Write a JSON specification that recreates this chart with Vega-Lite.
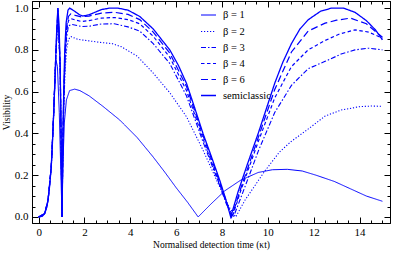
{
  "$schema": "https://vega.github.io/schema/vega-lite/v6.json",
  "width": 358,
  "height": 222,
  "autosize": {"type": "none"},
  "padding": {"left": 32, "top": 1, "right": 4, "bottom": 31},
  "background": "white",
  "config": {
    "font": "Liberation Serif, Times New Roman, DejaVu Serif, serif",
    "view": {"stroke": "#000", "strokeWidth": 1},
    "axis": {"labelFont": "Liberation Serif, Times New Roman, DejaVu Serif, serif", "titleFont": "Liberation Serif, Times New Roman, DejaVu Serif, serif", "labelColor": "#000", "titleColor": "#000", "tickColor": "#000", "domainColor": "#000", "grid": false, "titleFontWeight": "normal", "labelFontSize": 11, "titleFontSize": 9.5},
    "legend": {"labelFont": "Liberation Serif, Times New Roman, DejaVu Serif, serif"}
  },
  "datasets": {
    "curves": [
      {"s": "β = 1", "x": 0, "y": 0}, {"s": "β = 1", "x": 0.15, "y": 0.003}, {"s": "β = 1", "x": 0.26, "y": 0.016}, {"s": "β = 1", "x": 0.35, "y": 0.045}, {"s": "β = 1", "x": 0.41, "y": 0.08}, {"s": "β = 1", "x": 0.48, "y": 0.15}, {"s": "β = 1", "x": 0.55, "y": 0.24}, {"s": "β = 1", "x": 0.6, "y": 0.35}, {"s": "β = 1", "x": 0.65, "y": 0.48}, {"s": "β = 1", "x": 0.7, "y": 0.62}, {"s": "β = 1", "x": 0.76, "y": 0.75}, {"s": "β = 1", "x": 0.82, "y": 0.72}, {"s": "β = 1", "x": 0.9, "y": 0.5}, {"s": "β = 1", "x": 1.02, "y": 0}, {"s": "β = 1", "x": 1.06, "y": 0.25}, {"s": "β = 1", "x": 1.12, "y": 0.45}, {"s": "β = 1", "x": 1.21, "y": 0.56}, {"s": "β = 1", "x": 1.35, "y": 0.605}, {"s": "β = 1", "x": 1.57, "y": 0.612}, {"s": "β = 1", "x": 1.8, "y": 0.605}, {"s": "β = 1", "x": 2.2, "y": 0.58}, {"s": "β = 1", "x": 2.8, "y": 0.53}, {"s": "β = 1", "x": 3.54, "y": 0.464}, {"s": "β = 1", "x": 4.3, "y": 0.38}, {"s": "β = 1", "x": 4.99, "y": 0.288}, {"s": "β = 1", "x": 5.5, "y": 0.215}, {"s": "β = 1", "x": 6.0, "y": 0.14}, {"s": "β = 1", "x": 6.5, "y": 0.07}, {"s": "β = 1", "x": 6.96, "y": 0}, {"s": "β = 1", "x": 7.5, "y": 0.06}, {"s": "β = 1", "x": 8.12, "y": 0.125}, {"s": "β = 1", "x": 8.8, "y": 0.175}, {"s": "β = 1", "x": 9.58, "y": 0.213}, {"s": "β = 1", "x": 10.2, "y": 0.226}, {"s": "β = 1", "x": 10.85, "y": 0.228}, {"s": "β = 1", "x": 11.5, "y": 0.22}, {"s": "β = 1", "x": 12.1, "y": 0.2}, {"s": "β = 1", "x": 12.9, "y": 0.17}, {"s": "β = 1", "x": 13.6, "y": 0.135}, {"s": "β = 1", "x": 14.3, "y": 0.1}, {"s": "β = 1", "x": 15, "y": 0.075},

      {"s": "β = 2", "x": 0, "y": 0}, {"s": "β = 2", "x": 0.26, "y": 0.016}, {"s": "β = 2", "x": 0.41, "y": 0.08}, {"s": "β = 2", "x": 0.55, "y": 0.24}, {"s": "β = 2", "x": 0.65, "y": 0.48}, {"s": "β = 2", "x": 0.74, "y": 0.75}, {"s": "β = 2", "x": 0.84, "y": 0.97}, {"s": "β = 2", "x": 0.94, "y": 0.7}, {"s": "β = 2", "x": 1.02, "y": 0}, {"s": "β = 2", "x": 1.06, "y": 0.33}, {"s": "β = 2", "x": 1.1, "y": 0.52}, {"s": "β = 2", "x": 1.15, "y": 0.69}, {"s": "β = 2", "x": 1.22, "y": 0.8}, {"s": "β = 2", "x": 1.3, "y": 0.85}, {"s": "β = 2", "x": 1.4, "y": 0.864}, {"s": "β = 2", "x": 1.72, "y": 0.85}, {"s": "β = 2", "x": 2.2, "y": 0.843}, {"s": "β = 2", "x": 2.74, "y": 0.835}, {"s": "β = 2", "x": 3.2, "y": 0.83}, {"s": "β = 2", "x": 3.61, "y": 0.815}, {"s": "β = 2", "x": 4.3, "y": 0.77}, {"s": "β = 2", "x": 4.99, "y": 0.69}, {"s": "β = 2", "x": 5.72, "y": 0.595}, {"s": "β = 2", "x": 6.45, "y": 0.48}, {"s": "β = 2", "x": 7.17, "y": 0.32}, {"s": "β = 2", "x": 7.9, "y": 0.144}, {"s": "β = 2", "x": 8.3, "y": 0.05}, {"s": "β = 2", "x": 8.6, "y": 0}, {"s": "β = 2", "x": 9.0, "y": 0.08}, {"s": "β = 2", "x": 9.87, "y": 0.22}, {"s": "β = 2", "x": 10.5, "y": 0.31}, {"s": "β = 2", "x": 11.0, "y": 0.36}, {"s": "β = 2", "x": 11.7, "y": 0.416}, {"s": "β = 2", "x": 12.5, "y": 0.483}, {"s": "β = 2", "x": 13.2, "y": 0.512}, {"s": "β = 2", "x": 14.0, "y": 0.528}, {"s": "β = 2", "x": 14.5, "y": 0.531}, {"s": "β = 2", "x": 15, "y": 0.53},

      {"s": "β = 3", "x": 0, "y": 0}, {"s": "β = 3", "x": 0.26, "y": 0.016}, {"s": "β = 3", "x": 0.41, "y": 0.08}, {"s": "β = 3", "x": 0.55, "y": 0.24}, {"s": "β = 3", "x": 0.65, "y": 0.48}, {"s": "β = 3", "x": 0.74, "y": 0.75}, {"s": "β = 3", "x": 0.84, "y": 0.98}, {"s": "β = 3", "x": 0.94, "y": 0.71}, {"s": "β = 3", "x": 1.02, "y": 0}, {"s": "β = 3", "x": 1.06, "y": 0.36}, {"s": "β = 3", "x": 1.1, "y": 0.56}, {"s": "β = 3", "x": 1.15, "y": 0.74}, {"s": "β = 3", "x": 1.22, "y": 0.86}, {"s": "β = 3", "x": 1.3, "y": 0.915}, {"s": "β = 3", "x": 1.45, "y": 0.922}, {"s": "β = 3", "x": 1.86, "y": 0.912}, {"s": "β = 3", "x": 2.2, "y": 0.913}, {"s": "β = 3", "x": 2.74, "y": 0.924}, {"s": "β = 3", "x": 3.3, "y": 0.925}, {"s": "β = 3", "x": 3.9, "y": 0.91}, {"s": "β = 3", "x": 4.41, "y": 0.89}, {"s": "β = 3", "x": 5.0, "y": 0.83}, {"s": "β = 3", "x": 5.72, "y": 0.735}, {"s": "β = 3", "x": 6.45, "y": 0.58}, {"s": "β = 3", "x": 7.17, "y": 0.36}, {"s": "β = 3", "x": 7.9, "y": 0.15}, {"s": "β = 3", "x": 8.2, "y": 0.06}, {"s": "β = 3", "x": 8.5, "y": 0}, {"s": "β = 3", "x": 8.85, "y": 0.1}, {"s": "β = 3", "x": 9.6, "y": 0.32}, {"s": "β = 3", "x": 10.3, "y": 0.5}, {"s": "β = 3", "x": 11.03, "y": 0.63}, {"s": "β = 3", "x": 11.76, "y": 0.71}, {"s": "β = 3", "x": 12.5, "y": 0.745}, {"s": "β = 3", "x": 13.2, "y": 0.78}, {"s": "β = 3", "x": 13.8, "y": 0.8}, {"s": "β = 3", "x": 14.4, "y": 0.808}, {"s": "β = 3", "x": 15, "y": 0.8},

      {"s": "β = 4", "x": 0, "y": 0}, {"s": "β = 4", "x": 0.26, "y": 0.016}, {"s": "β = 4", "x": 0.41, "y": 0.08}, {"s": "β = 4", "x": 0.55, "y": 0.24}, {"s": "β = 4", "x": 0.65, "y": 0.48}, {"s": "β = 4", "x": 0.74, "y": 0.75}, {"s": "β = 4", "x": 0.84, "y": 0.99}, {"s": "β = 4", "x": 0.94, "y": 0.72}, {"s": "β = 4", "x": 1.02, "y": 0}, {"s": "β = 4", "x": 1.06, "y": 0.37}, {"s": "β = 4", "x": 1.1, "y": 0.58}, {"s": "β = 4", "x": 1.15, "y": 0.76}, {"s": "β = 4", "x": 1.22, "y": 0.89}, {"s": "β = 4", "x": 1.3, "y": 0.94}, {"s": "β = 4", "x": 1.4, "y": 0.95}, {"s": "β = 4", "x": 1.6, "y": 0.943}, {"s": "β = 4", "x": 1.86, "y": 0.936}, {"s": "β = 4", "x": 2.2, "y": 0.94}, {"s": "β = 4", "x": 2.74, "y": 0.952}, {"s": "β = 4", "x": 3.3, "y": 0.955}, {"s": "β = 4", "x": 3.9, "y": 0.945}, {"s": "β = 4", "x": 4.41, "y": 0.925}, {"s": "β = 4", "x": 5.0, "y": 0.865}, {"s": "β = 4", "x": 5.72, "y": 0.765}, {"s": "β = 4", "x": 6.45, "y": 0.605}, {"s": "β = 4", "x": 7.17, "y": 0.375}, {"s": "β = 4", "x": 7.9, "y": 0.155}, {"s": "β = 4", "x": 8.2, "y": 0.065}, {"s": "β = 4", "x": 8.45, "y": 0}, {"s": "β = 4", "x": 8.8, "y": 0.12}, {"s": "β = 4", "x": 9.58, "y": 0.36}, {"s": "β = 4", "x": 10.3, "y": 0.57}, {"s": "β = 4", "x": 11.03, "y": 0.72}, {"s": "β = 4", "x": 11.76, "y": 0.8}, {"s": "β = 4", "x": 12.5, "y": 0.845}, {"s": "β = 4", "x": 13.1, "y": 0.875}, {"s": "β = 4", "x": 13.8, "y": 0.896}, {"s": "β = 4", "x": 14.4, "y": 0.885}, {"s": "β = 4", "x": 15, "y": 0.856},

      {"s": "β = 6", "x": 0, "y": 0}, {"s": "β = 6", "x": 0.26, "y": 0.016}, {"s": "β = 6", "x": 0.41, "y": 0.08}, {"s": "β = 6", "x": 0.55, "y": 0.24}, {"s": "β = 6", "x": 0.65, "y": 0.48}, {"s": "β = 6", "x": 0.74, "y": 0.75}, {"s": "β = 6", "x": 0.84, "y": 1.0}, {"s": "β = 6", "x": 0.94, "y": 0.72}, {"s": "β = 6", "x": 1.02, "y": 0}, {"s": "β = 6", "x": 1.06, "y": 0.38}, {"s": "β = 6", "x": 1.1, "y": 0.6}, {"s": "β = 6", "x": 1.15, "y": 0.78}, {"s": "β = 6", "x": 1.22, "y": 0.91}, {"s": "β = 6", "x": 1.3, "y": 0.96}, {"s": "β = 6", "x": 1.4, "y": 0.972}, {"s": "β = 6", "x": 1.6, "y": 0.965}, {"s": "β = 6", "x": 1.86, "y": 0.958}, {"s": "β = 6", "x": 2.2, "y": 0.962}, {"s": "β = 6", "x": 2.74, "y": 0.976}, {"s": "β = 6", "x": 3.3, "y": 0.98}, {"s": "β = 6", "x": 3.9, "y": 0.97}, {"s": "β = 6", "x": 4.41, "y": 0.945}, {"s": "β = 6", "x": 5.0, "y": 0.885}, {"s": "β = 6", "x": 5.72, "y": 0.785}, {"s": "β = 6", "x": 6.45, "y": 0.625}, {"s": "β = 6", "x": 7.17, "y": 0.39}, {"s": "β = 6", "x": 7.55, "y": 0.275}, {"s": "β = 6", "x": 7.9, "y": 0.165}, {"s": "β = 6", "x": 8.2, "y": 0.07}, {"s": "β = 6", "x": 8.42, "y": 0}, {"s": "β = 6", "x": 8.8, "y": 0.13}, {"s": "β = 6", "x": 9.58, "y": 0.38}, {"s": "β = 6", "x": 10.3, "y": 0.61}, {"s": "β = 6", "x": 11.03, "y": 0.79}, {"s": "β = 6", "x": 11.76, "y": 0.89}, {"s": "β = 6", "x": 12.5, "y": 0.928}, {"s": "β = 6", "x": 13.0, "y": 0.942}, {"s": "β = 6", "x": 13.6, "y": 0.952}, {"s": "β = 6", "x": 14.3, "y": 0.925}, {"s": "β = 6", "x": 15, "y": 0.86},

      {"s": "semiclassic", "x": 0, "y": 0}, {"s": "semiclassic", "x": 0.15, "y": 0.003}, {"s": "semiclassic", "x": 0.26, "y": 0.016}, {"s": "semiclassic", "x": 0.35, "y": 0.045}, {"s": "semiclassic", "x": 0.41, "y": 0.08}, {"s": "semiclassic", "x": 0.48, "y": 0.15}, {"s": "semiclassic", "x": 0.55, "y": 0.24}, {"s": "semiclassic", "x": 0.6, "y": 0.35}, {"s": "semiclassic", "x": 0.65, "y": 0.48}, {"s": "semiclassic", "x": 0.7, "y": 0.62}, {"s": "semiclassic", "x": 0.74, "y": 0.75}, {"s": "semiclassic", "x": 0.79, "y": 0.9}, {"s": "semiclassic", "x": 0.84, "y": 1.0}, {"s": "semiclassic", "x": 0.89, "y": 0.92}, {"s": "semiclassic", "x": 0.94, "y": 0.72}, {"s": "semiclassic", "x": 0.98, "y": 0.4}, {"s": "semiclassic", "x": 1.02, "y": 0}, {"s": "semiclassic", "x": 1.06, "y": 0.4}, {"s": "semiclassic", "x": 1.1, "y": 0.63}, {"s": "semiclassic", "x": 1.14, "y": 0.8}, {"s": "semiclassic", "x": 1.2, "y": 0.93}, {"s": "semiclassic", "x": 1.28, "y": 0.99}, {"s": "semiclassic", "x": 1.35, "y": 1.0}, {"s": "semiclassic", "x": 1.5, "y": 0.99}, {"s": "semiclassic", "x": 1.79, "y": 0.968}, {"s": "semiclassic", "x": 1.93, "y": 0.962}, {"s": "semiclassic", "x": 2.2, "y": 0.968}, {"s": "semiclassic", "x": 2.74, "y": 0.993}, {"s": "semiclassic", "x": 3.1, "y": 1.0}, {"s": "semiclassic", "x": 3.46, "y": 1.0}, {"s": "semiclassic", "x": 3.9, "y": 0.99}, {"s": "semiclassic", "x": 4.41, "y": 0.96}, {"s": "semiclassic", "x": 5.0, "y": 0.9}, {"s": "semiclassic", "x": 5.72, "y": 0.8}, {"s": "semiclassic", "x": 6.1, "y": 0.725}, {"s": "semiclassic", "x": 6.45, "y": 0.64}, {"s": "semiclassic", "x": 6.8, "y": 0.525}, {"s": "semiclassic", "x": 7.17, "y": 0.4}, {"s": "semiclassic", "x": 7.55, "y": 0.285}, {"s": "semiclassic", "x": 7.9, "y": 0.176}, {"s": "semiclassic", "x": 8.15, "y": 0.09}, {"s": "semiclassic", "x": 8.38, "y": 0}, {"s": "semiclassic", "x": 8.7, "y": 0.12}, {"s": "semiclassic", "x": 9.1, "y": 0.25}, {"s": "semiclassic", "x": 9.58, "y": 0.4}, {"s": "semiclassic", "x": 10.3, "y": 0.64}, {"s": "semiclassic", "x": 10.65, "y": 0.74}, {"s": "semiclassic", "x": 11.03, "y": 0.83}, {"s": "semiclassic", "x": 11.4, "y": 0.9}, {"s": "semiclassic", "x": 11.76, "y": 0.944}, {"s": "semiclassic", "x": 12.3, "y": 0.985}, {"s": "semiclassic", "x": 12.78, "y": 1.0}, {"s": "semiclassic", "x": 13.3, "y": 1.0}, {"s": "semiclassic", "x": 13.8, "y": 0.98}, {"s": "semiclassic", "x": 14.3, "y": 0.94}, {"s": "semiclassic", "x": 14.7, "y": 0.895}, {"s": "semiclassic", "x": 15, "y": 0.848}
    ]
  },
  "data": {"name": "curves"},
  "layer": [
    {
      "mark": {"type": "line", "strokeCap": "butt", "clip": true},
      "encoding": {
        "color": {"field": "s", "type": "nominal",
          "scale": {"domain": ["β = 1", "β = 2", "β = 3", "β = 4", "β = 6", "semiclassic"], "range": ["#0000ff", "#0000ff", "#0000ff", "#0000ff", "#0000ff", "#0000ff"]},
          "legend": {"orient": "none", "legendX": 168, "legendY": 6, "title": null, "symbolType": "stroke", "symbolSize": 225, "labelFontSize": 10.5, "labelColor": "#000", "rowPadding": 2, "labelOffset": 6}},
        "x": {"field": "x", "type": "quantitative", "scale": {"domain": [-0.29, 15.33], "nice": false, "zero": false},
          "axis": {"orient": "bottom", "values": [0,0.5,1,1.5,2,2.5,3,3.5,4,4.5,5,5.5,6,6.5,7,7.5,8,8.5,9,9.5,10,10.5,11,11.5,12,12.5,13,13.5,14,14.5,15],
            "labelExpr": "datum.value % 2 === 0 ? format(datum.value, 'd') : ''",
            "tickSize": {"condition": {"test": "datum.value % 2 === 0", "value": -6}, "value": -3},
            "labelPadding": 9, "labelFlush": false, "title": "Normalised detection time (κt)", "titlePadding": 2}},
        "y": {"field": "y", "type": "quantitative", "scale": {"domain": [-0.029, 1.034], "nice": false, "zero": false},
          "axis": {"orient": "left", "values": [0,0.05,0.1,0.15,0.2,0.25,0.3,0.35,0.4,0.45,0.5,0.55,0.6,0.65,0.7,0.75,0.8,0.85,0.9,0.95,1.0],
            "labelExpr": "round(datum.value*100) % 20 === 0 ? format(datum.value, '.1f') : ''",
            "tickSize": {"condition": {"test": "round(datum.value*100) % 20 === 0", "value": -6}, "value": -3},
            "labelPadding": 10, "labelFlush": false, "title": "Visibility", "titlePadding": 3}},
        "strokeDash": {"field": "s", "type": "nominal",
          "scale": {"domain": ["β = 1", "β = 2", "β = 3", "β = 4", "β = 6", "semiclassic"], "range": [[1, 0], [1.2, 1.8], [5, 2, 1.5, 2], [3.5, 2.5], [7, 3.5], [1, 0]]},
          "legend": {"orient": "none", "legendX": 168, "legendY": 6, "title": null, "symbolType": "stroke", "symbolSize": 225, "labelFontSize": 10.5, "labelColor": "#000", "rowPadding": 2, "labelOffset": 6}},
        "strokeWidth": {"field": "s", "type": "nominal",
          "scale": {"domain": ["β = 1", "β = 2", "β = 3", "β = 4", "β = 6", "semiclassic"], "range": [1, 1.3, 1.4, 1.5, 1.6, 2.6]},
          "legend": {"orient": "none", "legendX": 168, "legendY": 6, "title": null, "symbolType": "stroke", "symbolSize": 225, "labelFontSize": 10.5, "labelColor": "#000", "rowPadding": 2, "labelOffset": 6}}
      }
    },
    {
      "mark": {"type": "point", "opacity": 0},
      "encoding": {
        "x": {"field": "x", "type": "quantitative", "scale": {"domain": [-0.29, 15.33], "nice": false, "zero": false},
          "axis": {"orient": "top", "values": [0,0.5,1,1.5,2,2.5,3,3.5,4,4.5,5,5.5,6,6.5,7,7.5,8,8.5,9,9.5,10,10.5,11,11.5,12,12.5,13,13.5,14,14.5,15],
            "labels": false, "title": null,
            "tickSize": {"condition": {"test": "datum.value % 2 === 0", "value": -6}, "value": -3}}},
        "y": {"field": "y", "type": "quantitative", "scale": {"domain": [-0.029, 1.034], "nice": false, "zero": false},
          "axis": {"orient": "right", "values": [0,0.05,0.1,0.15,0.2,0.25,0.3,0.35,0.4,0.45,0.5,0.55,0.6,0.65,0.7,0.75,0.8,0.85,0.9,0.95,1.0],
            "labels": false, "title": null,
            "tickSize": {"condition": {"test": "round(datum.value*100) % 20 === 0", "value": -6}, "value": -3}}}
      }
    }
  ],
  "resolve": {"axis": {"x": "independent", "y": "independent"}}
}
